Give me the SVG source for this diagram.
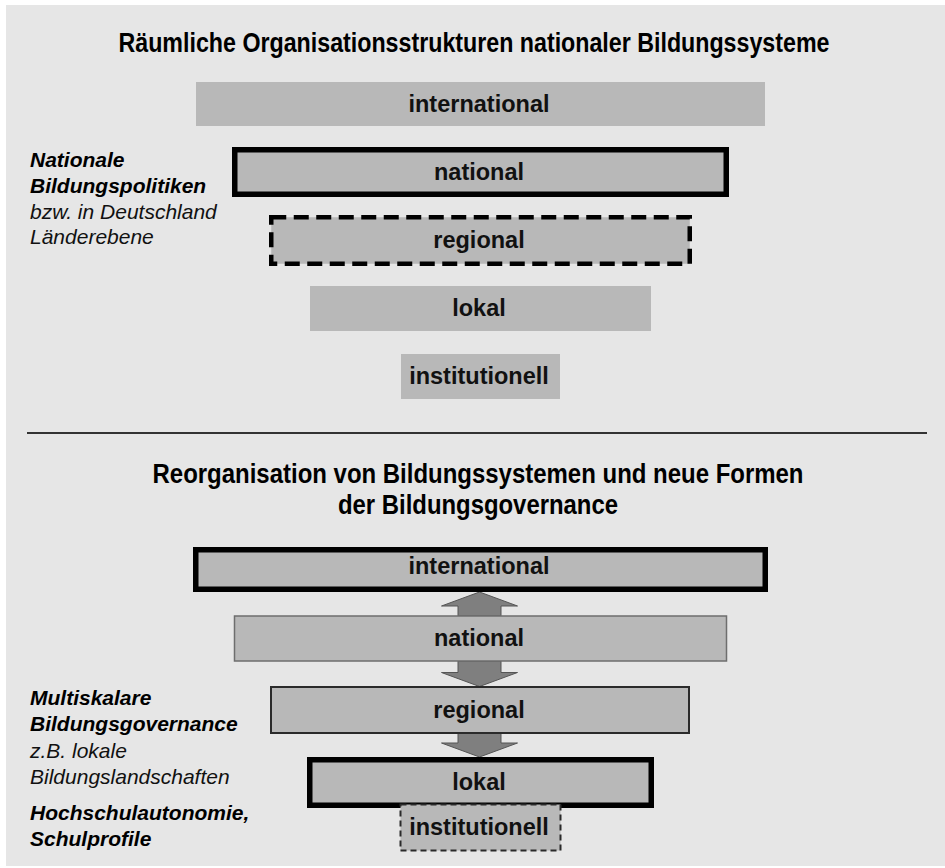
<svg xmlns="http://www.w3.org/2000/svg" width="945" height="868" viewBox="0 0 945 868">
<defs>
<style>
.bg{fill:#e6e6e6}
.box{fill:#b8b8b8}
.thick{stroke:#000;stroke-width:5.5}
.dash{stroke:#000;stroke-width:4.5;stroke-dasharray:15 7.5}
.thin{stroke:#6e6e6e;stroke-width:1.5}
.mid{stroke:#2a2a2a;stroke-width:2}
.dashs{stroke:#2a2a2a;stroke-width:2;stroke-dasharray:6 4}
.lbl{font-family:"Liberation Sans",Arial,sans-serif;font-weight:bold;font-size:23.5px;fill:#111;text-anchor:middle}
.title{font-family:"Liberation Sans",Arial,sans-serif;font-weight:bold;font-size:27px;fill:#000;text-anchor:middle}
.side{font-family:"Liberation Sans",Arial,sans-serif;font-style:italic;font-size:21px;fill:#111}
.sideb{font-weight:bold;fill:#000}
.arrow{fill:#7f7f7f;stroke:#555;stroke-width:1}
</style>
</defs>
<rect class="bg" x="6" y="5" width="939" height="861"/>
<text class="title" x="474" y="52" textLength="711" lengthAdjust="spacingAndGlyphs">Räumliche Organisationsstrukturen nationaler Bildungssysteme</text>
<g id="top-international"><rect class="box" x="196" y="82" width="569" height="44"/><text class="lbl" x="479" y="112">international</text></g>
<g id="top-national"><rect class="box thick" x="234.75" y="149.75" width="491.5" height="44.5"/><text class="lbl" x="479" y="180">national</text></g>
<g id="top-regional"><rect class="box dash" x="271.25" y="217.25" width="418.5" height="46.5"/><text class="lbl" x="479" y="248">regional</text></g>
<g id="top-lokal"><rect class="box" x="310" y="286" width="341" height="45"/><text class="lbl" x="479" y="316">lokal</text></g>
<g id="top-institutionell"><rect class="box" x="401" y="354" width="159" height="45"/><text class="lbl" x="479" y="384">institutionell</text></g>
<g id="note-top">
<text class="side"><tspan class="sideb" x="30" y="167">Nationale</tspan><tspan class="sideb" x="30" y="193">Bildungspolitiken</tspan><tspan x="30" y="219">bzw. in Deutschland</tspan><tspan x="30" y="244">Länderebene</tspan></text>
</g>
<line x1="27" y1="433" x2="927" y2="433" stroke="#333" stroke-width="2"/>
<text class="title" x="478" y="483" textLength="651" lengthAdjust="spacingAndGlyphs">Reorganisation von Bildungssystemen und neue Formen</text>
<text class="title" x="478" y="514" textLength="280" lengthAdjust="spacingAndGlyphs">der Bildungsgovernance</text>
<g id="connectors">
<polygon class="arrow" points="479.5,592 517.5,606 501,606 501,616 458,616 458,606 441.5,606"/>
<polygon class="arrow" points="458,661 501,661 501,672.5 517.5,672.5 479.5,686.5 441.5,672.5 458,672.5"/>
<polygon class="arrow" points="458,733 501,733 501,743 517.5,743 479.5,757 441.5,743 458,743"/>
</g>
<g id="bot-international"><rect class="box thick" x="195.75" y="549.75" width="569.5" height="39.5"/><text class="lbl" x="479" y="574">international</text></g>
<g id="bot-national"><rect class="box thin" x="234.5" y="616" width="492" height="45"/><text class="lbl" x="479" y="646">national</text></g>
<g id="bot-regional"><rect class="box mid" x="271" y="687" width="418" height="46"/><text class="lbl" x="479" y="718">regional</text></g>
<g id="bot-lokal"><rect class="box thick" x="309.75" y="759.75" width="341.5" height="45.5"/><text class="lbl" x="479" y="790">lokal</text></g>
<g id="bot-institutionell"><rect class="box dashs" x="400.5" y="804.5" width="160" height="46"/><text class="lbl" x="479" y="835">institutionell</text></g>
<g id="note-bottom">
<text class="side"><tspan class="sideb" x="30" y="705">Multiskalare</tspan><tspan class="sideb" x="30" y="731">Bildungsgovernance</tspan><tspan x="30" y="758">z.B. lokale</tspan><tspan x="30" y="784">Bildungslandschaften</tspan><tspan class="sideb" x="30" y="820">Hochschulautonomie,</tspan><tspan class="sideb" x="30" y="846">Schulprofile</tspan></text>
</g>
</svg>
